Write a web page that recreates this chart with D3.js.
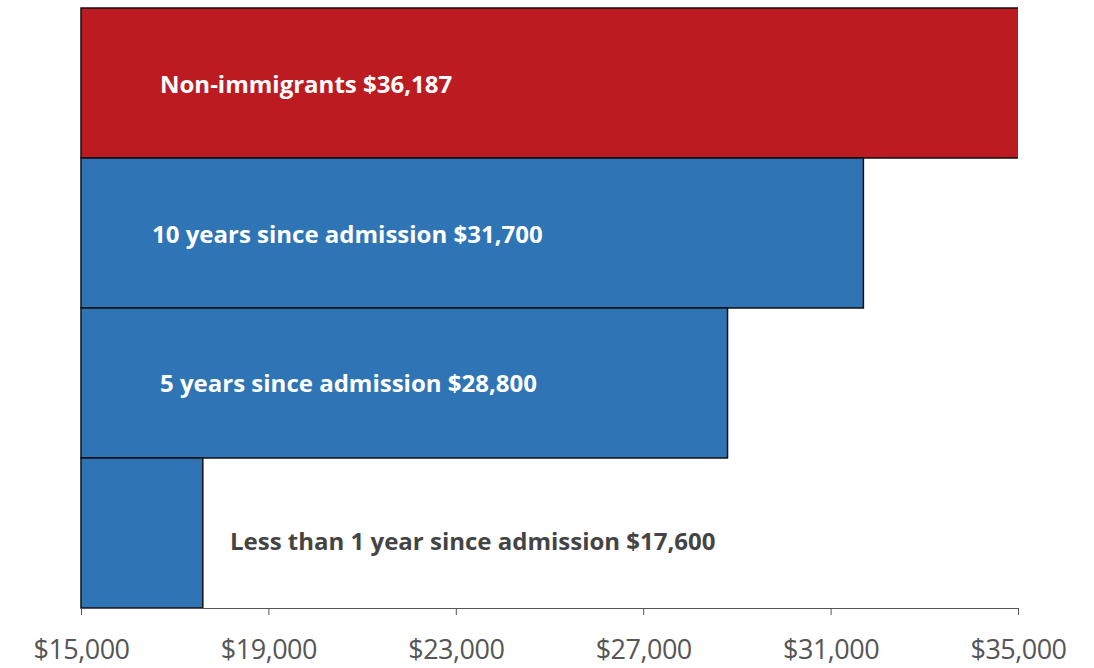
<!DOCTYPE html>
<html>
<head>
<meta charset="utf-8">
<script src="https://cdn.jsdelivr.net/npm/d3@7"></script>
<style>
  body { margin: 0; background: #fff; }
  svg { display: block; }
  .axis text { font-family: "Open Sans", sans-serif; font-size: 27px; fill: #555; letter-spacing: -0.5px; }
  .axis path, .axis line { stroke: #555; }
  .bar-label { font-family: "Open Sans", sans-serif; font-size: 24px; font-weight: bold; }
</style>
</head>
<body>
<svg id="chart"></svg>
<script>
const categories = ["Non-immigrants", "10 years since admission", "5 years since admission", "Less than 1 year since admission"];
const incomes = [36187, 31700, 28800, 17600];
const valueLabels = ["$36,187", "$31,700", "$28,800", "$17,600"];
const tickValues = [15000, 19000, 23000, 27000, 31000, 35000];
const barColors = ["#bd1b22", "#2f75b5", "#2f75b5", "#2f75b5"];
const labelColors = ["#fff", "#fff", "#fff", "#444"];

const width = 1094, height = 668;
const margin = { top: 8, right: 76, bottom: 60, left: 81 };

const svg = d3.select("#chart")
    .attr("width", width)
    .attr("height", height);

const xScale = d3.scaleLinear()
    .domain([15000, 35000])
    .range([margin.left, width - margin.right]);

const yScale = d3.scaleBand()
    .domain(categories)
    .range([margin.top, height - margin.bottom])
    .padding(0);

// bars go past the axis end, so clip them at $35,000
svg.append("clipPath")
    .attr("id", "plotClip")
    .append("rect")
    .attr("x", margin.left - 2)
    .attr("y", 0)
    .attr("width", xScale(35000) - margin.left + 2)
    .attr("height", height);

const bars = svg.append("g").attr("clip-path", "url(#plotClip)");

bars.selectAll("rect")
    .data(categories)
    .enter()
    .append("rect")
    .attr("x", xScale(15000))
    .attr("y", d => yScale(d))
    .attr("width", (d, i) => xScale(incomes[i]) - xScale(15000))
    .attr("height", yScale.bandwidth())
    .attr("fill", (d, i) => barColors[i])
    .attr("stroke", "#111")
    .attr("stroke-width", 1.5);

// label start positions (px) as in the original
const labelX = [160, 152, 160, 230];
const labelDy = [0, 0, -1, 7];

svg.selectAll(".bar-label")
    .data(categories)
    .enter()
    .append("text")
    .attr("class", "bar-label")
    .attr("x", (d, i) => labelX[i])
    .attr("y", (d, i) => yScale(d) + yScale.bandwidth() / 2 + labelDy[i])
    .attr("dominant-baseline", "central")
    .attr("fill", (d, i) => labelColors[i])
    .text((d, i) => `${d} ${valueLabels[i]}`);

const xAxis = d3.axisBottom(xScale)
    .tickValues(tickValues)
    .tickSize(7)
    .tickPadding(25)
    .tickFormat(d => "$" + d3.format(",")(d));

svg.append("g")
    .attr("class", "axis")
    .attr("transform", `translate(0,${height - margin.bottom})`)
    .call(xAxis);
</script>
</body>
</html>
